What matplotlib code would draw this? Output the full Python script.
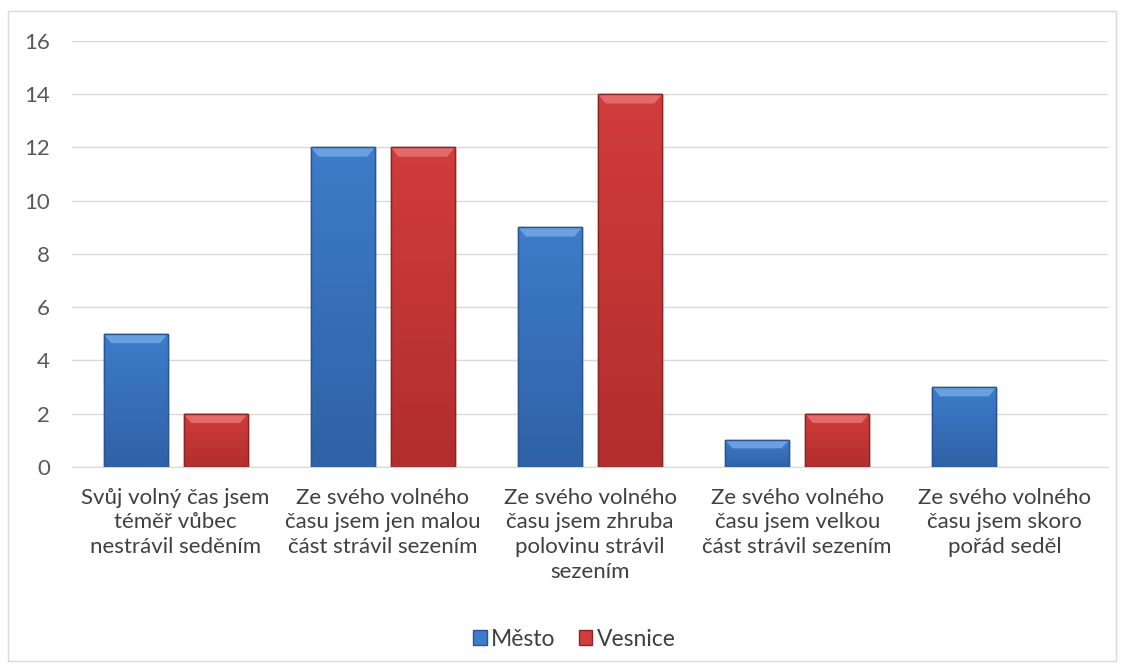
import numpy as np
import matplotlib.pyplot as plt
from matplotlib.patches import Polygon, Rectangle
from matplotlib.colors import LinearSegmentedColormap

#================= Data =================

categories = [
    "Svůj volný čas jsem\ntéměř vůbec\nnestrávil seděním",
    "Ze svého volného\nčasu jsem jen malou\nčást strávil sezením",
    "Ze svého volného\nčasu jsem zhruba\npolovinu strávil\nsezením",
    "Ze svého volného\nčasu jsem velkou\nčást strávil sezením",
    "Ze svého volného\nčasu jsem skoro\npořád seděl",
]
mesto = [5, 12, 9, 1, 3]
vesnice = [2, 12, 14, 2, 0]

#================= Plot =================

plt.rcParams['font.family'] = ['Lato', 'DejaVu Sans']

fig = plt.figure(figsize=(11.26, 6.70), dpi=100)
ax = fig.add_axes([0.064, 0.303, 0.92, 0.636])

# thin grey frame round the whole chart
fig.patches.append(Rectangle((0.007, 0.013), 0.984, 0.97, transform=fig.transFigure,
                             fill=False, edgecolor='#d9d9d9', linewidth=1.0))

x = np.arange(len(categories))
width = 0.309
offset = 0.193

grad = np.linspace(0, 1, 64).reshape(-1, 1)


def bevel_bars(xpos, values, top, bottom, edge, light):
    cmap = LinearSegmentedColormap.from_list('g', [bottom, top])
    bars = ax.bar(xpos, values, width, color=top, edgecolor=edge, linewidth=1.0, zorder=3)
    for b in bars:
        h = b.get_height()
        if h <= 0:
            b.set_visible(False)
            continue
        x0 = b.get_x()
        x1 = x0 + b.get_width()
        # vertical gradient inside the bar
        im = ax.imshow(grad, cmap=cmap, origin='lower', aspect='auto',
                       extent=(x0, x1, 0, h), zorder=3.5)
        im.set_clip_path(b)
        dx = b.get_width() * 0.12
        dy = min(0.35, h * 0.3)
        # lighter top bevel
        ax.add_patch(Polygon([(x0, h), (x1, h), (x1 - dx, h - dy), (x0 + dx, h - dy)],
                             closed=True, facecolor=light, edgecolor='none', zorder=4))
        ax.add_patch(Rectangle((x0, 0), x1 - x0, h, fill=False, edgecolor=edge,
                               linewidth=1.0, zorder=5))
    return bars


bevel_bars(x - offset, mesto, '#3d7cc9', '#2f62a6', '#2a5590', '#68a0e0')
bevel_bars(x + offset, vesnice, '#d13c3c', '#b22e2e', '#8c2424', '#e46a6a')

ax.set_xlim(-0.5, len(categories) - 0.5)
ax.set_ylim(0, 16)
ax.set_yticks(range(0, 17, 2))
ax.yaxis.grid(True, color='#d9d9d9', linewidth=1.0, zorder=0)
ax.set_axisbelow(True)

for s in ['top', 'right', 'left']:
    ax.spines[s].set_visible(False)
ax.spines['bottom'].set_color('#d9d9d9')

ax.set_xticks(x)
ax.set_xticklabels(categories, fontsize=16, color='#404040', linespacing=1.29)
ax.tick_params(axis='x', length=0, pad=15)
ax.tick_params(axis='y', length=0, labelsize=16, labelcolor='#595959', pad=16)

handles = [Rectangle((0, 0), 1, 1, facecolor='#3d7cc9', edgecolor='#2a5590'),
           Rectangle((0, 0), 1, 1, facecolor='#d13c3c', edgecolor='#8c2424')]
fig.legend(handles, ['Město', 'Vesnice'], loc='center', bbox_to_anchor=(0.51, 0.046),
           ncol=2, frameon=False, fontsize=16.5, handlelength=0.6, handleheight=0.6,
           handletextpad=0.2, columnspacing=1.0, labelcolor='#404040')

fig.savefig('out.png', dpi=100)
